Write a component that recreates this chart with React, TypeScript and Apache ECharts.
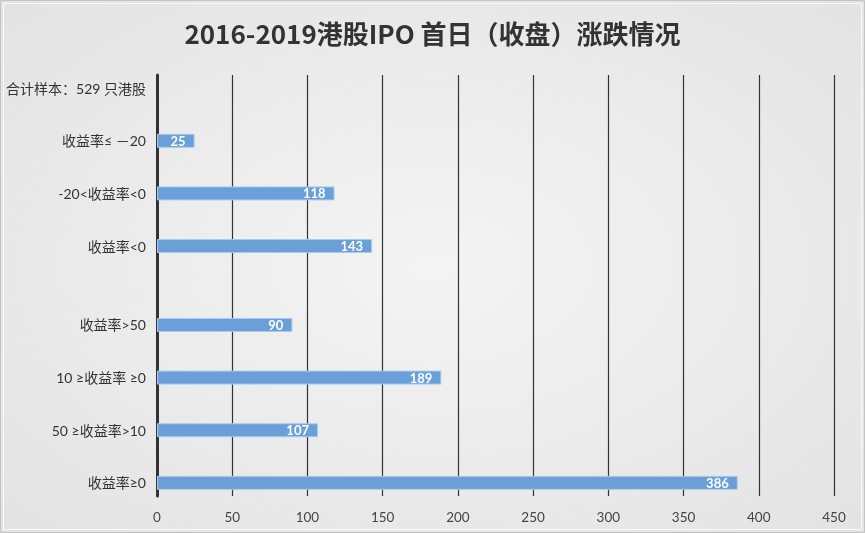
import React, { useEffect, useRef } from "react";
import * as echarts from "echarts";

const titleText = "2016-2019港股IPO 首日（收盘）涨跌情况";
const categories = [
  "合计样本：529 只港股", "",
  "收益率≤ －20", "",
  "-20<收益率<0", "",
  "收益率<0", "", "",
  "收益率>50", "",
  "10 ≥收益率 ≥0", "",
  "50 ≥收益率>10", "",
  "收益率≥0",
];
const values: (number | null)[] = [
  null, null,
  25, null,
  118, null,
  143, null, null,
  90, null,
  189, null,
  107, null,
  386,
];
const xTicks = { min: 0, max: 450, interval: 50 };

export default function App() {
  const ref = useRef<HTMLDivElement>(null);
  useEffect(() => {
    if (!ref.current) return;
    const chart = echarts.init(ref.current, undefined, { renderer: "svg" });
    const font = 'Lato, "Noto Sans CJK SC", sans-serif';
    chart.setOption({
      animation: false,
      backgroundColor: {
        type: "radial", x: 0.5, y: 0.5, r: 0.75,
        colorStops: [
          { offset: 0, color: "#f4f4f4" },
          { offset: 1, color: "#e2e2e2" },
        ],
      },
      title: {
        text: titleText,
        left: "center",
        top: 14,
        textStyle: { fontFamily: '"Noto Sans CJK SC", sans-serif', fontSize: 26, fontWeight: "bold", color: "#333" },
      },
      graphic: [
        { type: "rect", shape: { x: 0.5, y: 0.5, width: 864, height: 532 }, style: { fill: "none", stroke: "#c4c4c4", lineWidth: 1 }, silent: true },
        { type: "rect", shape: { x: 3.5, y: 3.5, width: 858, height: 526 }, style: { fill: "none", stroke: "#f8f8f8", lineWidth: 1 }, silent: true },
      ],
      grid: { left: 157, right: 31, top: 75, bottom: 37 },
      xAxis: {
        type: "value",
        min: xTicks.min, max: xTicks.max, interval: xTicks.interval,
        axisLine: { show: false },
        axisTick: { show: false },
        axisLabel: { fontFamily: font, fontSize: 13.5, color: "#444", margin: 14 },
        splitLine: { show: true, lineStyle: { color: "#333", width: 1.2 } },
      },
      yAxis: {
        type: "category",
        inverse: true,
        data: categories,
        axisLine: { show: true, lineStyle: { color: "#333", width: 3 } },
        axisTick: { show: false },
        axisLabel: { fontFamily: font, fontSize: 14, color: "#333", margin: 11, interval: 0 },
        splitLine: { show: false },
      },
      series: [
        {
          type: "bar",
          data: values,
          barWidth: 14,
          itemStyle: { color: "#6a9fd8", borderColor: "#a9cbee", borderWidth: 1 },
          label: {
            show: true,
            position: "insideRight",
            offset: [-4, 0],
            color: "#fff",
            fontFamily: font,
            fontWeight: "bold",
            fontSize: 13,
          },
        },
      ],
    });
    return () => chart.dispose();
  }, []);
  return <div ref={ref} style={{ position: "fixed", left: 0, top: 0, width: 865, height: 533 }} />;
}
